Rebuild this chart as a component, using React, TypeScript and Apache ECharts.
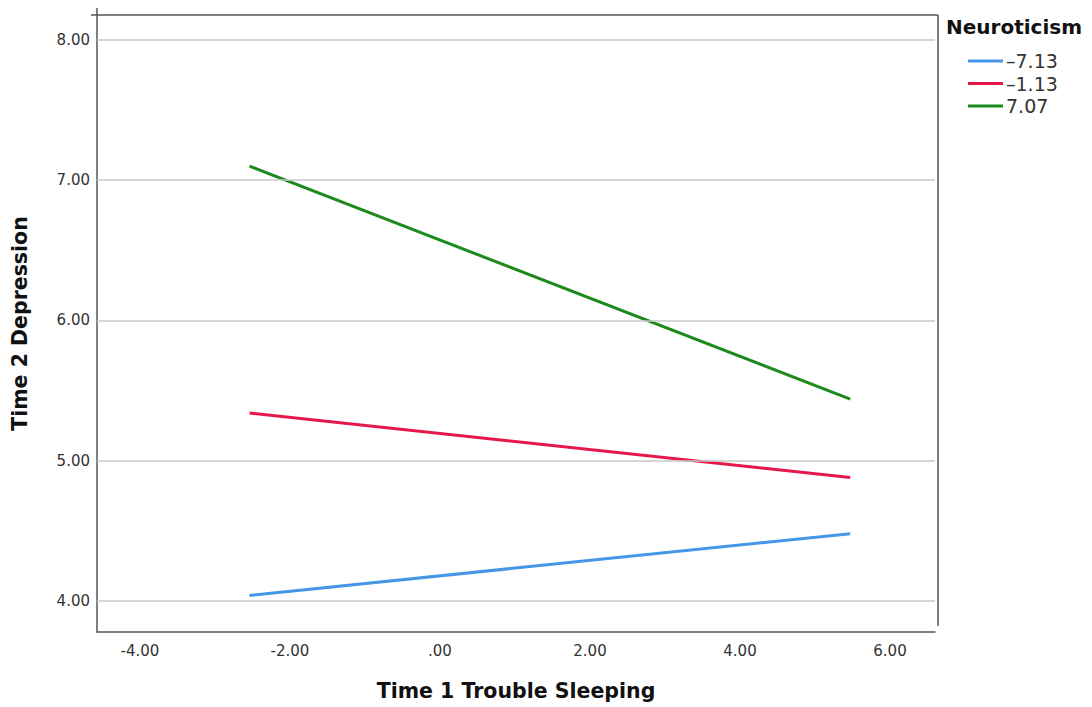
import React, { useEffect, useRef } from "react";
import * as echarts from "echarts";

const xPoints = [-2.54, 5.47];
const seriesNames = ["–7.13", "–1.13", "7.07"];
const lowNeuro = [4.04, 4.48];
const midNeuro = [5.34, 4.88];
const highNeuro = [7.1, 5.44];
const xTicks = [-4, -2, 0, 2, 4, 6];
const yTicks = [4, 5, 6, 7, 8];
const colors = ["#4596e6", "#e8174a", "#1d8a1d"];

const fmt = (v: number) => (v === 0 ? ".00" : v.toFixed(2));

export default function App() {
  const ref = useRef<HTMLDivElement>(null);
  useEffect(() => {
    if (!ref.current) return;
    const chart = echarts.init(ref.current, undefined, { renderer: "svg" });
    const values = [lowNeuro, midNeuro, highNeuro];
    chart.setOption({
      animation: false,
      backgroundColor: "#ffffff",
      textStyle: { fontFamily: "DejaVu Sans" },
      grid: { left: 97, top: 15, width: 838, height: 617, containLabel: false },
      xAxis: {
        type: "value",
        min: -4.573,
        max: 6.6,
        name: "Time 1 Trouble Sleeping",
        nameLocation: "middle",
        nameGap: 48,
        nameTextStyle: { fontFamily: "DejaVu Sans", fontWeight: "bold", fontSize: 20.5, color: "#111" },
        axisLine: { show: true, onZero: false, lineStyle: { color: "#555", width: 1.5 } },
        axisTick: { show: false },
        splitLine: { show: false },
        axisLabel: {
          customValues: xTicks,
          formatter: fmt,
          fontSize: 15,
          color: "#333",
          margin: 11,
        },
      },
      yAxis: {
        type: "value",
        min: 3.779,
        max: 8.178,
        name: "Time 2 Depression",
        nameLocation: "middle",
        nameGap: 67,
        nameRotate: 90,
        nameTextStyle: { fontFamily: "DejaVu Sans", fontWeight: "bold", fontSize: 20.5, color: "#111" },
        axisLine: { show: true, onZero: false, lineStyle: { color: "#555", width: 1.5 } },
        axisTick: { show: false },
        axisLabel: {
          customValues: yTicks,
          formatter: fmt,
          fontSize: 15,
          color: "#333",
          margin: 7,
        },
        splitLine: { show: false },
      },
      legend: {
        orient: "vertical",
        left: 968,
        top: 51.5,
        padding: 0,
        itemWidth: 35,
        itemHeight: 3,
        itemGap: 3.5,
        icon: "rect",
        data: seriesNames,
        textStyle: { fontFamily: "DejaVu Sans", fontSize: 19, color: "#333", padding: [0, 0, 0, -2] },
      },
      graphic: [
        {
          type: "text",
          left: 946,
          top: 17,
          style: { text: "Neuroticism", font: "bold 20px 'DejaVu Sans'", fill: "#111" },
        },
        {
          type: "line",
          shape: { x1: 91, y1: 15, x2: 938, y2: 15 },
          style: { stroke: "#555", lineWidth: 1.5 },
        },
        {
          type: "line",
          shape: { x1: 938, y1: 15, x2: 938, y2: 626 },
          style: { stroke: "#555", lineWidth: 1.5 },
        },
        {
          type: "line",
          shape: { x1: 97, y1: 8, x2: 97, y2: 15 },
          style: { stroke: "#555", lineWidth: 1.5 },
        },
      ],
      series: [
        {
          type: "line",
          name: "gridlines",
          silent: true,
          data: [],
          markLine: {
            silent: true,
            symbol: "none",
            label: { show: false },
            lineStyle: { color: "#c8c8c8", type: "solid", width: 1.5 },
            data: yTicks.map((t) => ({ yAxis: t })),
          },
        },
        ...seriesNames.map((name, i) => ({
          type: "line",
          name,
          data: xPoints.map((x, j) => [x, values[i][j]]),
          showSymbol: false,
          symbol: "none",
          lineStyle: { color: colors[i], width: 3 },
          itemStyle: { color: colors[i] },
        })),
      ],
    });
    return () => chart.dispose();
  }, []);
  return <div ref={ref} style={{ width: 1092, height: 707, marginLeft: -8, marginTop: -8 }} />;
}
